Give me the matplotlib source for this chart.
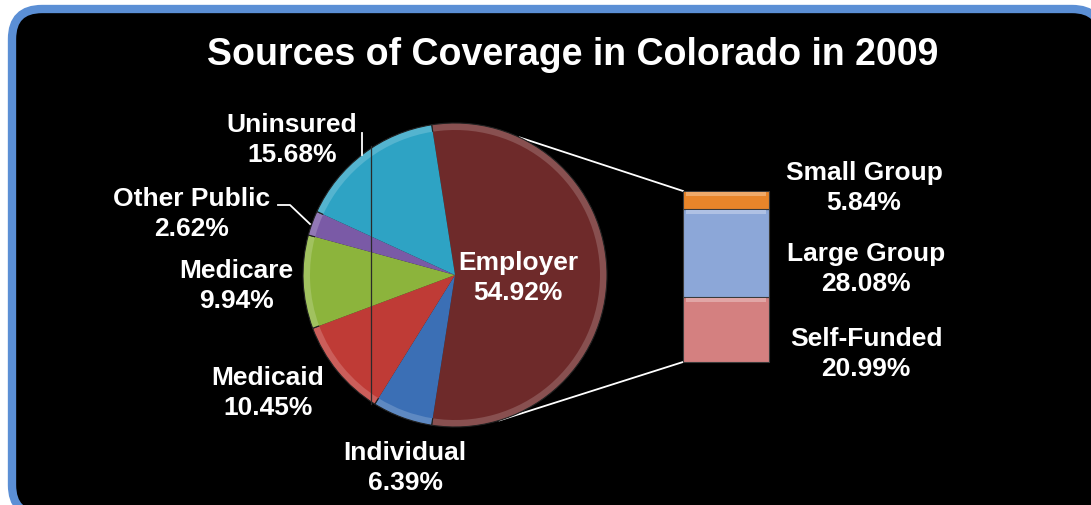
import numpy as np
import matplotlib.pyplot as plt
from matplotlib.colors import to_rgb
from matplotlib.patches import FancyBboxPatch

# coverage shares, 2009
categories = ['Employer', 'Individual', 'Medicaid', 'Medicare', 'Other Public', 'Uninsured']
shares = [54.92, 6.39, 10.45, 9.94, 2.62, 15.68]
pie_colors = ['#6e2a2a', '#3b6fb5', '#bf3b36', '#8cb43c', '#7a5aa6', '#2ea3c4']

# breakdown of the employer slice (bottom to top)
sub_categories = ['Self-Funded', 'Large Group', 'Small Group']
sub_shares = [20.99, 28.08, 5.84]
bar_colors = ['#d48080', '#8ca7d8', '#e8852a']

plt.rcParams['font.family'] = ['Liberation Sans', 'DejaVu Sans']

W, H = 1091, 506
fig = plt.figure(figsize=(W / 100, H / 100), dpi=100)
fig.patch.set_facecolor('white')
ax = fig.add_axes([0, 0, 1, 1])

# black panel with blue rounded border
panel = FancyBboxPatch((12, -10), 1090, 506, boxstyle='round,pad=0,rounding_size=30',
                       facecolor='black', edgecolor='#5b8fd5', linewidth=6, zorder=0)
ax.add_patch(panel)

ax.text(573, H - 55, 'Sources of Coverage in Colorado in 2009', color='white',
        fontsize=27, fontweight='bold', ha='center', va='center')


def lighten(c, f):
    rgb = np.array(to_rgb(c))
    return tuple(np.clip(rgb + (1 - rgb) * f, 0, 1))


# pie: slightly lighter outer wedges under the main ones give a bevelled rim
cx, cy, r = 455, 230, 152
start = shares[0] * 3.6 / 2
outer, _ = ax.pie(shares, colors=[lighten(c, 0.18) for c in pie_colors],
                  startangle=start, counterclock=False, center=(cx, cy), radius=r,
                  frame=True, wedgeprops=dict(edgecolor='#202020', linewidth=0.8))
inner, _ = ax.pie(shares, colors=pie_colors, startangle=start, counterclock=False,
                  center=(cx, cy), radius=r - 7, frame=True,
                  wedgeprops=dict(edgecolor='none', linewidth=0))
for w in outer:
    w.set_zorder(2)
for w in inner:
    w.set_zorder(3)

ax.set_xlim(0, W)
ax.set_ylim(0, H)
ax.set_aspect('equal')
ax.axis('off')

# thin dark line across the left part of the pie
ax.plot([371, 371], [H - 147, H - 405], color='#2a2a2a', lw=0.9, zorder=4)

# stacked bar for the employer breakdown
scale = 171 / sum(sub_shares)
bx, bw, by = 683, 86, H - 363
heights = np.array(sub_shares) * scale
bottoms = by + np.concatenate([[0], np.cumsum(heights)[:-1]])
ax.bar([bx + bw / 2] * 3, heights, width=bw, bottom=bottoms,
       color=bar_colors, edgecolor='#3a3a3a', linewidth=0.8, zorder=2)
# lighter strip along the top of each segment
for b, h, c in zip(bottoms, heights, bar_colors):
    ax.bar(bx + bw / 2, 4, width=bw - 6, bottom=b + h - 5,
           color=lighten(c, 0.3), linewidth=0, zorder=3)

# connector lines from the employer slice to the bar
top_bar = by + heights.sum()
for ang, ybar in [(64.8, top_bar), (-73.0, by)]:
    px = cx + r * np.cos(np.radians(ang))
    py = cy + r * np.sin(np.radians(ang))
    ax.plot([px, bx], [py, ybar], color='white', lw=1.3, zorder=1)

# leader lines
ax.plot([362, 362], [H - 134, H - 156], color='white', lw=1.3, zorder=5)
ax.plot([278, 290, 310], [H - 206, H - 206, H - 225], color='white', lw=1.3, zorder=5)

label_pos = {
    'Employer': (518, 278),
    'Individual': (405, 468),
    'Medicaid': (268, 393),
    'Medicare': (236, 286),
    'Other Public': (192, 214),
    'Uninsured': (292, 140),
}
for name, val in zip(categories, shares):
    x, y = label_pos[name]
    ax.text(x, H - y, f'{name}\n{val:.2f}%', color='white', fontsize=19,
            fontweight='bold', ha='center', va='center', linespacing=1.3, zorder=6)

sub_pos = {'Small Group': (864, 188), 'Large Group': (866, 269), 'Self-Funded': (866, 354)}
for name, val in zip(sub_categories, sub_shares):
    x, y = sub_pos[name]
    ax.text(x, H - y, f'{name}\n{val:.2f}%', color='white', fontsize=19,
            fontweight='bold', ha='center', va='center', linespacing=1.3, zorder=6)

fig.savefig('out.png', dpi=100, facecolor='white')
